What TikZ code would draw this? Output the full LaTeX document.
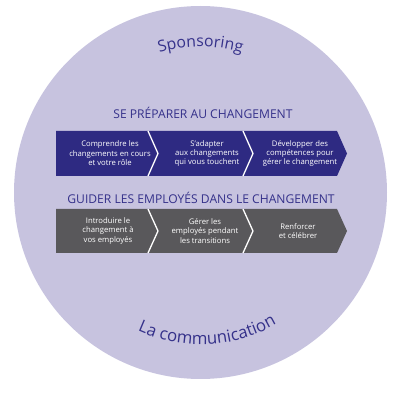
\documentclass[tikz,border=0pt]{standalone}
\usepackage{fontspec}
\setmainfont{Open Sans}
\usetikzlibrary{decorations.text}
\definecolor{bg}{HTML}{C7C3DF}
\definecolor{navy}{HTML}{2E2A82}
\definecolor{slate}{HTML}{59585B}
\definecolor{ttl}{HTML}{35318A}
\tikzset{
  boxtext/.style={text=white, align=center, font=\fontsize{7.7}{9.4}\selectfont, inner sep=0pt},
  titletext/.style={text=ttl, font=\fontsize{12.1}{14}\selectfont, inner sep=0pt},
  sep/.style={draw=white, line width=1.3pt},
}
\begin{document}
\begin{tikzpicture}[x=1pt,y=1pt]
\useasboundingbox (0,0) rectangle (400,400);
\fill[bg] (200.5,207.5) circle[radius=186.5];

% curved labels
\path[decorate, decoration={text along path, text align=center,
  text={|\fontsize{15.8}{18}\selectfont\color{ttl}|Sponsoring}}]
  (200.5,207.5) ++(150:146) arc[start angle=150, end angle=30, radius=146];
\path[decorate, decoration={text along path, text align=center,
  text={|\fontsize{16.8}{19}\selectfont\color{ttl}|La communication}}]
  (200.5,207.5) ++(212.8:152) arc[start angle=212.8, end angle=332.8, radius=152];

% titles
\node[titletext] (t1) at (203,287) {SE PRÉPARER AU CHANGEMENT};
\node[titletext] (t2) at (201,202) {GUIDER LES EMPLOYÉS DANS LE CHANGEMENT};

% row 1
\fill[navy] (56,269)--(148,269)--(158,246.5)--(148,224)--(56,224)--cycle;
\fill[navy] (148,269)--(243,269)--(253,246.5)--(243,224)--(148,224)--(158,246.5)--cycle;
\fill[navy] (243,269)--(337,269)--(347,246.5)--(337,224)--(243,224)--(253,246.5)--cycle;
\draw[sep] (148,269)--(158,246.5)--(148,224);
\draw[sep] (243,269)--(253,246.5)--(243,224);
\node[boxtext] (a1) at (110,246.5) {Comprendre les\\changements en cours\\et votre rôle};
\node[boxtext] (a2) at (207,246.5) {S'adapter\\aux changements\\qui vous touchent};
\node[boxtext] (a3) at (300,246.5) {Développer des\\compétences pour\\gérer le changement};

% row 2
\fill[slate] (56,191)--(148,191)--(158,169)--(148,147)--(56,147)--cycle;
\fill[slate] (148,191)--(243,191)--(253,169)--(243,147)--(148,147)--(158,169)--cycle;
\fill[slate] (243,191)--(337,191)--(347,169)--(337,147)--(243,147)--(253,169)--cycle;
\draw[sep] (148,191)--(158,169)--(148,147);
\draw[sep] (243,191)--(253,169)--(243,147);
\node[boxtext] (b1) at (108,169) {Introduire le\\changement à\\vos employés};
\node[boxtext] (b2) at (205,169) {Gérer les\\employés pendant\\les transitions};
\node[boxtext] (b3) at (298,169) {Renforcer\\et célébrer};
\end{tikzpicture}
\end{document}
